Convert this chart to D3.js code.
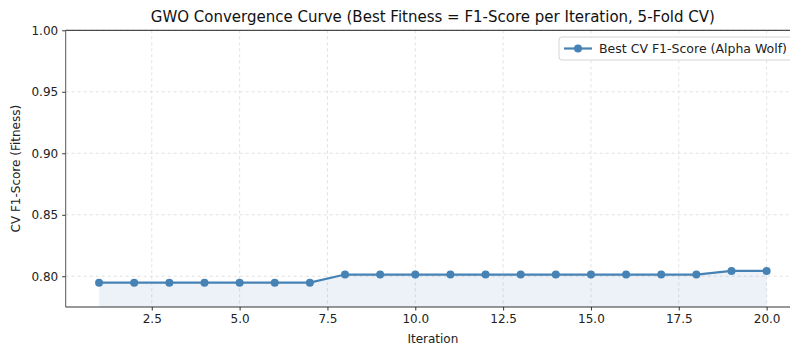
<!DOCTYPE html>
<html>
<head>
<meta charset="utf-8">
<script src="https://cdn.jsdelivr.net/npm/d3@7"></script>
<style>
  body { margin: 0; background: #fff; }
  svg { display: block; font-family: "DejaVu Sans", sans-serif; }
</style>
</head>
<body>
<svg id="chart" width="790" height="347"></svg>
<script>
// Best cross-validated F1 score of the alpha wolf at each GWO iteration
const iterations = [1,2,3,4,5,6,7,8,9,10,11,12,13,14,15,16,17,18,19,20];
const bestF1 = [0.7948,0.7948,0.7948,0.7948,0.7948,0.7948,0.7948,
                0.8014,0.8014,0.8014,0.8014,0.8014,0.8014,0.8014,0.8014,0.8014,0.8014,0.8014,
                0.8043,0.8043];
const xTicks = [2.5,5.0,7.5,10.0,12.5,15.0,17.5,20.0];
const yTicks = [0.80,0.85,0.90,0.95,1.00];

const titleText = "GWO Convergence Curve (Best Fitness = F1-Score per Iteration, 5-Fold CV)";
const xLabel = "Iteration";
const yLabel = "CV F1-Score (Fitness)";
const seriesLabel = "Best CV F1-Score (Alpha Wolf)";

const color = "#4682b4";
const svg = d3.select("#chart");
const plotL = 65.7, plotR = 800, plotT = 30.3, plotB = 307;

const x = d3.scaleLinear().domain([0.05, 20.95]).range([plotL, plotR]);
const y = d3.scaleLinear().domain([0.775, 1.0]).range([plotB, plotT]);

const data = iterations.map((it, i) => ({ it, v: bestF1[i] }));

// grid
const grid = svg.append("g").attr("stroke", "#d9d9d9").attr("stroke-dasharray", "3,3").attr("stroke-width", 0.8);
xTicks.forEach(t => grid.append("line").attr("x1", x(t)).attr("x2", x(t)).attr("y1", plotT).attr("y2", plotB));
yTicks.forEach(t => grid.append("line").attr("x1", plotL).attr("x2", plotR).attr("y1", y(t)).attr("y2", y(t)));

// shaded area under the curve
svg.append("path")
  .datum(data)
  .attr("fill", color)
  .attr("fill-opacity", 0.1)
  .attr("d", d3.area().x(d => x(d.it)).y0(y(0.775)).y1(d => y(d.v)));

// line + markers
svg.append("path")
  .datum(data)
  .attr("fill", "none")
  .attr("stroke", color)
  .attr("stroke-width", 2.2)
  .attr("d", d3.line().x(d => x(d.it)).y(d => y(d.v)));
svg.append("g").selectAll("circle").data(data).join("circle")
  .attr("cx", d => x(d.it)).attr("cy", d => y(d.v)).attr("r", 4).attr("fill", color);

// axes (ticks + labels; spines drawn separately)
const xAxis = svg.append("g").attr("transform", `translate(0,${plotB})`)
  .call(d3.axisBottom(x).tickValues(xTicks).tickFormat(d3.format(".1f")).tickSizeOuter(0).tickSize(3.5).tickPadding(4));
const yAxis = svg.append("g").attr("transform", `translate(${plotL},0)`)
  .call(d3.axisLeft(y).tickValues(yTicks).tickFormat(d3.format(".2f")).tickSizeOuter(0).tickSize(3.5).tickPadding(4));
[xAxis, yAxis].forEach(a => {
  a.selectAll("text").attr("font-size", 12).attr("fill", "#222").attr("font-family", "DejaVu Sans, sans-serif");
  a.selectAll("line").attr("stroke", "#333");
  a.select(".domain").remove();
});
// spines
const spines = svg.append("g").attr("stroke-width", 1).attr("fill", "none");
spines.append("line").attr("x1", plotL).attr("x2", plotR).attr("y1", plotT).attr("y2", plotT).attr("stroke", "#222");
spines.append("line").attr("x1", plotL).attr("x2", plotR).attr("y1", plotB).attr("y2", plotB).attr("stroke", "#333");
spines.append("line").attr("x1", plotL).attr("x2", plotL).attr("y1", plotT).attr("y2", plotB).attr("stroke", "#555");

// labels
svg.append("text").attr("x", (plotL + plotR) / 2).attr("y", 22).attr("text-anchor", "middle")
  .attr("font-size", 15).attr("fill", "#111").text(titleText);
svg.append("text").attr("x", (plotL + plotR) / 2).attr("y", 343).attr("text-anchor", "middle")
  .attr("font-size", 12).attr("fill", "#222").text(xLabel);
svg.append("text").attr("transform", `translate(20,${(plotT + plotB) / 2}) rotate(-90)`).attr("text-anchor", "middle")
  .attr("font-size", 12).attr("fill", "#222").text(yLabel);

// legend
const lg = svg.append("g").attr("transform", "translate(559,37)");
lg.append("rect").attr("x", 0).attr("y", 0).attr("width", 250).attr("height", 23).attr("rx", 3)
  .attr("fill", "#fff").attr("fill-opacity", 0.85).attr("stroke", "#d5d5d5");
lg.append("line").attr("x1", 5).attr("x2", 33).attr("y1", 11.5).attr("y2", 11.5).attr("stroke", color).attr("stroke-width", 2.2);
lg.append("circle").attr("cx", 19).attr("cy", 11.5).attr("r", 4).attr("fill", color);
lg.append("text").attr("x", 40).attr("y", 16).attr("font-size", 12.5).attr("fill", "#222").text(seriesLabel);
</script>
</body>
</html>
